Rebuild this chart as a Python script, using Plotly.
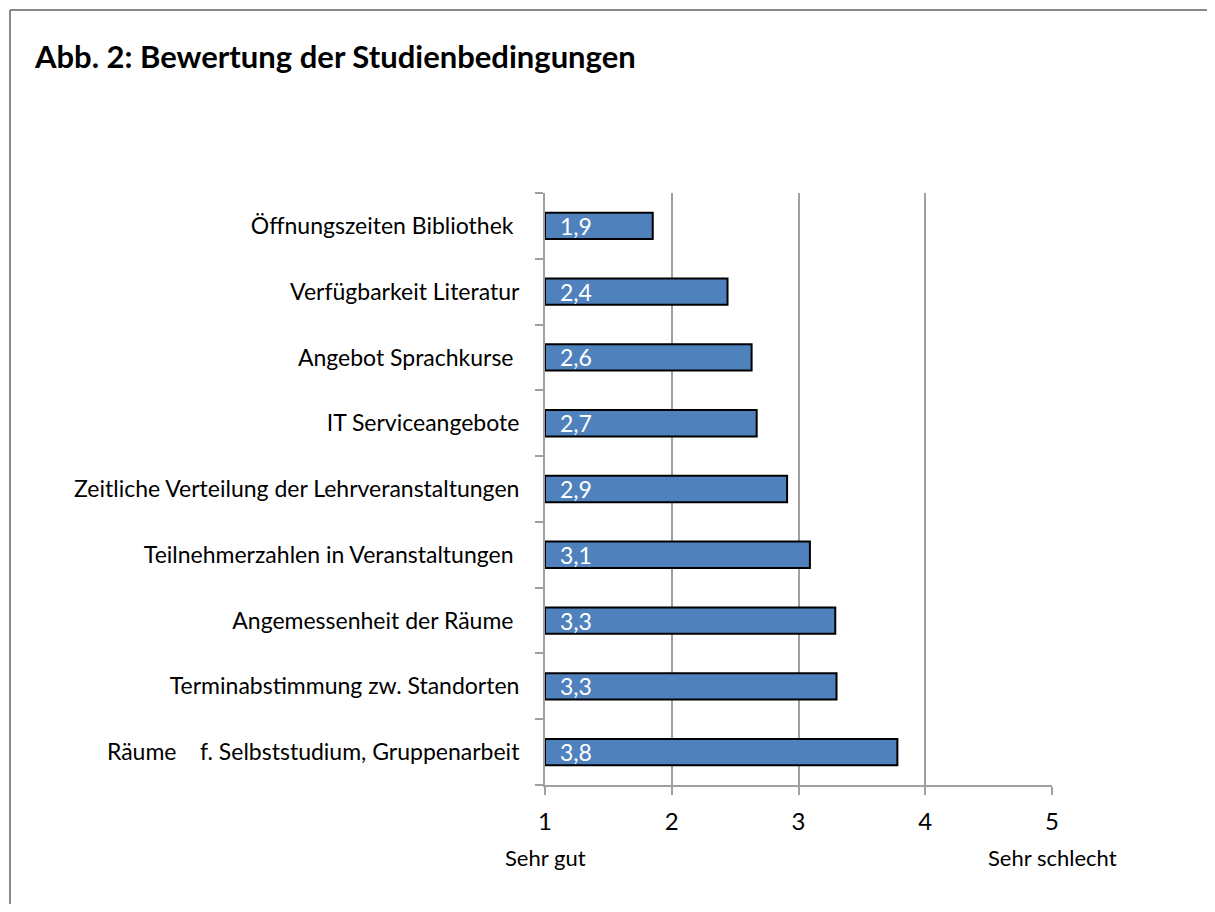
import plotly.graph_objects as go

# Daten (Mittelwerte, 1 = sehr gut ... 5 = sehr schlecht)
kategorien = [
    "Öffnungszeiten Bibliothek ",
    "Verfügbarkeit Literatur",
    "Angebot Sprachkurse ",
    "IT Serviceangebote",
    "Zeitliche Verteilung der Lehrveranstaltungen",
    "Teilnehmerzahlen in Veranstaltungen ",
    "Angemessenheit der Räume ",
    "Terminabstimmung zw. Standorten",
    "Räume    f. Selbststudium, Gruppenarbeit",
]
werte = [1.85, 2.44, 2.63, 2.67, 2.91, 3.09, 3.29, 3.30, 3.78]
beschriftung = ["1,9", "2,4", "2,6", "2,7", "2,9", "3,1", "3,3", "3,3", "3,8"]
x_ticks = [1, 2, 3, 4, 5]

FONT = "Lato"
# die Seite hat 8px Rand, daher 1199x896
W, H = 1199, 896
L, R, T, B = 537, 155, 185, 119
pw, ph = W - L - R, H - T - B

fig = go.Figure()
fig.add_trace(go.Bar(
    y=kategorien,
    x=[w - 1 for w in werte],
    base=1,
    orientation="h",
    width=0.4,
    marker=dict(color="#4F81BD", line=dict(color="black", width=2)),
    hoverinfo="skip",
))

# Werte-Beschriftung in den Balken
for k, b in zip(kategorien, beschriftung):
    fig.add_annotation(x=1, y=k, text=b, showarrow=False, xanchor="left",
                       xshift=13, font=dict(family=FONT, size=23, color="white"))

# Skalenbeschriftung unten
fig.add_annotation(x=1, y=0, xref="x", yref="paper", yshift=-88, text="Sehr gut",
                   showarrow=False, font=dict(family=FONT, size=22, color="black"))
fig.add_annotation(x=5, y=0, xref="x", yref="paper", yshift=-88, text="Sehr schlecht",
                   showarrow=False, font=dict(family=FONT, size=22, color="black"))

# Rahmen (oben und links)
x_links = (2 - L) / pw
y_oben = (H - B - 2) / ph
fig.add_shape(type="line", xref="paper", yref="paper",
              x0=x_links, x1=(W - L) / pw + 0.05, y0=y_oben, y1=y_oben,
              line=dict(color="#888888", width=2))
fig.add_shape(type="line", xref="paper", yref="paper",
              x0=x_links, x1=x_links, y0=y_oben, y1=-(B + 5) / ph,
              line=dict(color="#888888", width=2))

fig.update_layout(
    width=W, height=H,
    margin=dict(l=L, r=R, t=T, b=B),
    paper_bgcolor="white", plot_bgcolor="white",
    showlegend=False,
    title=dict(text="<b>Abb. 2: Bewertung der Studienbedingungen</b>",
               x=27 / W, xanchor="left", y=1 - 49 / H, yanchor="middle",
               font=dict(family=FONT, size=31, color="black")),
)
fig.update_xaxes(
    range=[1, 5], tickvals=x_ticks, ticktext=[str(t) for t in x_ticks],
    showgrid=True, gridcolor="#A0A0A0", gridwidth=2,
    showline=True, linecolor="#A0A0A0", linewidth=2,
    ticks="outside", ticklen=8, tickcolor="#A0A0A0", tickwidth=2,
    ticklabelstandoff=6,
    tickfont=dict(family=FONT, size=24, color="black"),
    zeroline=False, fixedrange=True,
)
fig.update_yaxes(
    categoryorder="array", categoryarray=kategorien[::-1],
    showline=True, linecolor="#A0A0A0", linewidth=2,
    ticks="outside", ticklen=8, tickcolor="#A0A0A0", tickwidth=2,
    tickson="boundaries", ticklabelstandoff=19,
    tickfont=dict(family=FONT, size=23, color="black"),
    showgrid=False, fixedrange=True,
)

fig.write_html("out.html")
